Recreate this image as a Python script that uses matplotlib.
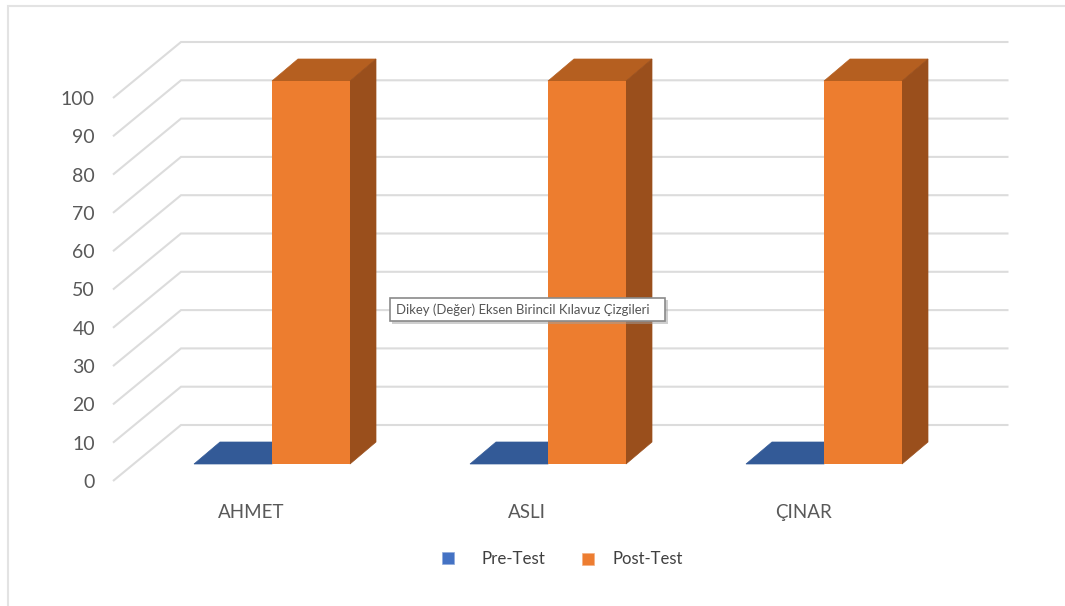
import matplotlib
matplotlib.use("Agg")
import matplotlib.pyplot as plt
from matplotlib.lines import Line2D
from matplotlib.patches import Patch, Polygon, Rectangle
from matplotlib.transforms import ScaledTranslation

categories = ["AHMET", "ASLI", "ÇINAR"]
pre_test = [0, 0, 0]
post_test = [100, 100, 100]
value_ticks = [0, 10, 20, 30, 40, 50, 60, 70, 80, 90, 100]

W, H = 1065, 606
plt.rcParams["font.family"] = ["Lato", "DejaVu Sans"]
TEXT = "#595959"
GRID = "#dcdcdc"
fig = plt.figure(figsize=(W / 100, H / 100), dpi=100, facecolor="white")

# Axes span the front floor edge to the right end of the back wall
left, right, bottom, top = 113, 1008.5, 481, 41
ax = fig.add_axes([left / W, 1 - bottom / H, (right - left) / W, (bottom - top) / H])
px_per_cat, px_per_val = 276, 3.83
ax.set_xlim((left - 272) / px_per_cat, (right - 272) / px_per_cat)
ax.set_ylim(0, (bottom - top) / px_per_val)
ax.patch.set_visible(False)
for s in ax.spines.values():
    s.set_visible(False)

# Oblique depth of the wall and of the bars, in data units
wall_dx, wall_dy = 68 / px_per_cat, 56 / px_per_val
bar_dx, bar_dy = 26 / px_per_cat, 22 / px_per_val
floor = 17 / px_per_val
bar_w = 78 / px_per_cat
x_start = ax.get_xlim()[0]
x_end = ax.get_xlim()[1]

for v in value_ticks:
    ax.plot([x_start, x_start + wall_dx, x_end], [v, v + wall_dy, v + wall_dy],
            color=GRID, lw=1.5, zorder=1, clip_on=False, solid_joinstyle="miter",
            solid_capstyle="butt")

for i, (a, b) in enumerate(zip(pre_test, post_test)):
    # Pre-Test sits left of the category centre, Post-Test right of it
    ax.bar(i - bar_w, a, bar_w, bottom=floor, align="edge", color="#4472c4", zorder=2)
    ax.add_patch(Polygon([(i - bar_w, floor + a), (i, floor + a),
                          (i + bar_dx, floor + a + bar_dy), (i - bar_w + bar_dx, floor + a + bar_dy)],
                         closed=True, fc="#335a97", ec="#335a97", lw=0.5, zorder=2))
    ax.bar(i, b, bar_w, bottom=floor, align="edge", color="#ed7d2f", zorder=4)
    ax.add_patch(Polygon([(i, floor + b), (i + bar_w, floor + b),
                          (i + bar_w + bar_dx, floor + b + bar_dy), (i + bar_dx, floor + b + bar_dy)],
                         closed=True, fc="#b55f20", ec="#b55f20", lw=0.5, zorder=3))
    ax.add_patch(Polygon([(i + bar_w, floor), (i + bar_w + bar_dx, floor + bar_dy),
                          (i + bar_w + bar_dx, floor + b + bar_dy), (i + bar_w, floor + b)],
                         closed=True, fc="#9a4f1c", ec="#9a4f1c", lw=0.5, zorder=3))

ax.set_yticks(value_ticks)
ax.set_yticklabels([str(v) for v in value_ticks], fontsize=14, color=TEXT)
ax.set_xticks(range(len(categories)))
ax.set_xticklabels(categories, fontsize=13.5, color=TEXT)
ax.tick_params(axis="y", length=0, pad=13)
ax.tick_params(axis="x", length=0, pad=16.5)
# Category labels sit on the front floor edge, left of the bar plane
shift = ScaledTranslation(-21 / 100, 0, fig.dpi_scale_trans)
for lab in ax.get_xticklabels():
    lab.set_transform(lab.get_transform() + shift)

# Legend entries are anchored separately because their text gaps differ
fig.legend(handles=[Patch(fc="#4472c4", ec="#8faadc", lw=0.5, label="Pre-Test")], frameon=False,
           loc="center left", bbox_to_anchor=(442 / W, 1 - 558.5 / H), borderpad=0, borderaxespad=0,
           handlelength=0.71, handleheight=0.71, handletextpad=1.65, labelcolor="#404040", fontsize=12.2)
fig.legend(handles=[Patch(fc="#ed7d31", ec="#f4b183", lw=0.5, label="Post-Test")], frameon=False,
           loc="center left", bbox_to_anchor=(582 / W, 1 - 559.5 / H), borderpad=0, borderaxespad=0,
           handlelength=0.71, handleheight=0.71, handletextpad=1.12, labelcolor="#404040", fontsize=12)

# Hover tooltip with its drop shadow
fig.add_artist(Rectangle((392 / W, 1 - 324 / H), 276 / W, 24 / H, transform=fig.transFigure,
                         fc="#a0a0a0", ec="none", alpha=0.5, zorder=9))
fig.add_artist(Rectangle((390 / W, 1 - 321 / H), 275 / W, 23 / H, transform=fig.transFigure,
                         fc="white", ec="#8a8a8a", lw=1.2, zorder=10))
fig.text(396 / W, 1 - 309.5 / H, "Dikey (Değer) Eksen Birincil Kılavuz Çizgileri",
         fontsize=9.45, color="#555555", va="center", ha="left", zorder=11)

# Thin frame along the top and left edges
fig.add_artist(Line2D([7.5 / W, 7.5 / W, 1], [0, 1 - 6 / H, 1 - 6 / H], transform=fig.transFigure,
                      color="#e3e3e3", lw=1.5, solid_joinstyle="miter"))

fig.savefig("out.png", dpi=100)
